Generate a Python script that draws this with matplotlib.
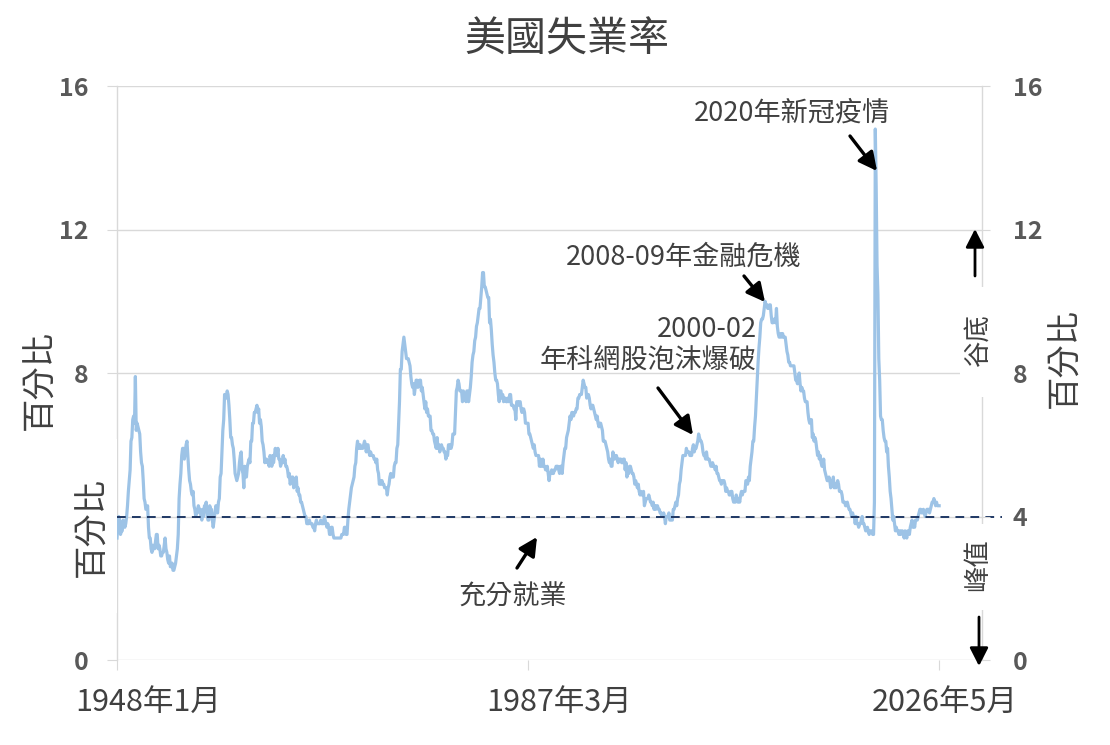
import numpy as np
import matplotlib
matplotlib.use("Agg")
import matplotlib.pyplot as plt
from matplotlib.transforms import ScaledTranslation
from matplotlib.patches import Rectangle, FancyArrowPatch
from matplotlib.ticker import FuncFormatter

plt.rcParams['font.family'] = ['Noto Sans CJK TC', 'DejaVu Sans']

# ---------------- data ----------------
title = "美國失業率"
start_year = 1948
x_tick_labels = ["1948年1月", "1987年3月", "2026年5月"]
x_tick_dates = [(1948, 1), (1987, 3), (2026, 5)]
y_ticks = [0, 4, 8, 12, 16]
full_employment = 4.0

unemployment_rate = [
    3.4, 3.8, 4.0, 3.9, 3.5, 3.6, 3.6, 3.9, 3.8, 3.7, 3.8, 4.0,   # 1948
    4.3, 4.7, 5.0, 5.3, 6.1, 6.2, 6.7, 6.8, 6.6, 7.9, 6.4, 6.6,   # 1949
    6.5, 6.4, 6.3, 5.8, 5.5, 5.4, 5.0, 4.5, 4.4, 4.2, 4.2, 4.3,   # 1950
    3.7, 3.4, 3.4, 3.1, 3.0, 3.2, 3.1, 3.1, 3.3, 3.5, 3.5, 3.1,   # 1951
    3.2, 3.1, 2.9, 2.9, 3.0, 3.0, 3.2, 3.4, 3.1, 3.0, 2.8, 2.7,   # 1952
    2.9, 2.6, 2.6, 2.7, 2.5, 2.5, 2.6, 2.7, 2.9, 3.1, 3.5, 4.5,   # 1953
    4.9, 5.2, 5.7, 5.9, 5.9, 5.6, 5.8, 6.0, 6.1, 5.7, 5.3, 5.0,   # 1954
    4.9, 4.7, 4.6, 4.7, 4.3, 4.2, 4.0, 4.2, 4.1, 4.3, 4.2, 4.2,   # 1955
    4.0, 3.9, 4.2, 4.0, 4.3, 4.3, 4.4, 4.1, 3.9, 3.9, 4.3, 4.2,   # 1956
    4.2, 3.9, 3.7, 3.9, 4.1, 4.3, 4.2, 4.1, 4.4, 4.5, 5.1, 5.2,   # 1957
    5.8, 6.4, 6.7, 7.4, 7.4, 7.3, 7.5, 7.4, 7.1, 6.7, 6.2, 6.2,   # 1958
    6.0, 5.9, 5.6, 5.2, 5.1, 5.0, 5.1, 5.2, 5.5, 5.7, 5.8, 5.3,   # 1959
    5.2, 4.8, 5.4, 5.2, 5.1, 5.4, 5.5, 5.6, 5.5, 6.1, 6.1, 6.6,   # 1960
    6.6, 6.9, 6.9, 7.0, 7.1, 6.9, 7.0, 6.6, 6.7, 6.5, 6.1, 6.0,   # 1961
    5.8, 5.5, 5.6, 5.6, 5.5, 5.5, 5.4, 5.7, 5.6, 5.4, 5.7, 5.5,   # 1962
    5.7, 5.9, 5.7, 5.7, 5.9, 5.6, 5.6, 5.4, 5.5, 5.5, 5.7, 5.5,   # 1963
    5.6, 5.4, 5.4, 5.3, 5.1, 5.2, 4.9, 5.0, 5.1, 5.1, 4.8, 5.0,   # 1964
    4.9, 5.1, 4.7, 4.8, 4.6, 4.6, 4.4, 4.4, 4.3, 4.2, 4.1, 4.0,   # 1965
    4.0, 3.8, 3.8, 3.8, 3.9, 3.8, 3.8, 3.8, 3.7, 3.7, 3.6, 3.8,   # 1966
    3.9, 3.8, 3.8, 3.8, 3.8, 3.9, 3.8, 3.8, 3.8, 4.0, 3.9, 3.8,   # 1967
    3.7, 3.8, 3.7, 3.5, 3.5, 3.7, 3.7, 3.5, 3.4, 3.4, 3.4, 3.4,   # 1968
    3.4, 3.4, 3.4, 3.4, 3.4, 3.5, 3.5, 3.5, 3.7, 3.7, 3.5, 3.5,   # 1969
    3.9, 4.2, 4.4, 4.6, 4.8, 4.9, 5.0, 5.1, 5.4, 5.5, 5.9, 6.1,   # 1970
    5.9, 5.9, 6.0, 5.9, 5.9, 5.9, 6.0, 6.1, 6.0, 5.8, 6.0, 6.0,   # 1971
    5.8, 5.7, 5.8, 5.7, 5.7, 5.7, 5.6, 5.6, 5.5, 5.6, 5.3, 5.2,   # 1972
    4.9, 5.0, 4.9, 5.0, 4.9, 4.9, 4.8, 4.8, 4.8, 4.6, 4.8, 4.9,   # 1973
    5.1, 5.2, 5.1, 5.1, 5.1, 5.4, 5.5, 5.5, 5.9, 6.0, 6.6, 7.2,   # 1974
    8.1, 8.1, 8.6, 8.8, 9.0, 8.8, 8.6, 8.4, 8.4, 8.4, 8.3, 8.2,   # 1975
    7.9, 7.7, 7.6, 7.7, 7.4, 7.6, 7.8, 7.8, 7.6, 7.7, 7.8, 7.8,   # 1976
    7.5, 7.6, 7.4, 7.2, 7.0, 7.2, 6.9, 7.0, 6.8, 6.8, 6.8, 6.4,   # 1977
    6.4, 6.3, 6.3, 6.1, 6.0, 5.9, 6.2, 5.9, 6.0, 5.8, 5.9, 6.0,   # 1978
    5.9, 5.9, 5.8, 5.8, 5.6, 5.7, 5.7, 6.0, 5.9, 6.0, 5.9, 6.0,   # 1979
    6.3, 6.3, 6.3, 6.9, 7.5, 7.6, 7.8, 7.7, 7.5, 7.5, 7.5, 7.2,   # 1980
    7.5, 7.4, 7.4, 7.2, 7.5, 7.5, 7.2, 7.4, 7.6, 7.9, 8.3, 8.5,   # 1981
    8.6, 8.9, 9.0, 9.3, 9.4, 9.6, 9.8, 9.8, 10.1, 10.4, 10.8, 10.8,  # 1982
    10.4, 10.4, 10.3, 10.2, 10.1, 10.1, 9.4, 9.5, 9.2, 8.8, 8.5, 8.3,  # 1983
    8.0, 7.8, 7.8, 7.7, 7.4, 7.2, 7.5, 7.5, 7.3, 7.4, 7.2, 7.3,   # 1984
    7.3, 7.2, 7.2, 7.3, 7.2, 7.4, 7.4, 7.1, 7.1, 7.1, 7.0, 7.0,   # 1985
    6.7, 7.2, 7.2, 7.1, 7.2, 7.2, 7.0, 6.9, 7.0, 7.0, 6.9, 6.6,   # 1986
    6.6, 6.6, 6.6, 6.3, 6.3, 6.2, 6.1, 6.0, 5.9, 6.0, 5.8, 5.7,   # 1987
    5.7, 5.7, 5.7, 5.4, 5.6, 5.4, 5.4, 5.6, 5.4, 5.4, 5.3, 5.3,   # 1988
    5.4, 5.2, 5.0, 5.2, 5.2, 5.3, 5.2, 5.2, 5.3, 5.3, 5.4, 5.4,   # 1989
    5.4, 5.3, 5.2, 5.4, 5.4, 5.2, 5.5, 5.7, 5.9, 5.9, 6.2, 6.3,   # 1990
    6.4, 6.6, 6.8, 6.7, 6.9, 6.9, 6.8, 6.9, 6.9, 7.0, 7.0, 7.3,   # 1991
    7.3, 7.4, 7.4, 7.4, 7.6, 7.8, 7.7, 7.6, 7.6, 7.3, 7.4, 7.4,   # 1992
    7.3, 7.1, 7.0, 7.1, 7.1, 7.0, 6.9, 6.8, 6.7, 6.8, 6.6, 6.5,   # 1993
    6.6, 6.6, 6.5, 6.4, 6.1, 6.1, 6.1, 6.0, 5.9, 5.8, 5.6, 5.5,   # 1994
    5.6, 5.4, 5.4, 5.8, 5.6, 5.6, 5.7, 5.7, 5.6, 5.5, 5.6, 5.6,   # 1995
    5.6, 5.5, 5.5, 5.6, 5.6, 5.3, 5.5, 5.1, 5.2, 5.2, 5.4, 5.4,   # 1996
    5.3, 5.2, 5.2, 5.1, 4.9, 5.0, 4.9, 4.8, 4.9, 4.7, 4.6, 4.7,   # 1997
    4.6, 4.6, 4.7, 4.3, 4.4, 4.5, 4.5, 4.5, 4.6, 4.5, 4.4, 4.4,   # 1998
    4.3, 4.4, 4.2, 4.3, 4.2, 4.3, 4.3, 4.2, 4.2, 4.1, 4.1, 4.0,   # 1999
    4.0, 4.1, 4.0, 3.8, 4.0, 4.0, 4.0, 4.1, 3.9, 3.9, 3.9, 3.9,   # 2000
    4.2, 4.2, 4.3, 4.4, 4.3, 4.5, 4.6, 4.9, 5.0, 5.3, 5.5, 5.7,   # 2001
    5.7, 5.7, 5.7, 5.9, 5.8, 5.8, 5.8, 5.7, 5.7, 5.7, 5.9, 6.0,   # 2002
    5.8, 5.9, 5.9, 6.0, 6.1, 6.3, 6.2, 6.1, 6.1, 6.0, 5.8, 5.7,   # 2003
    5.7, 5.6, 5.8, 5.6, 5.6, 5.6, 5.5, 5.4, 5.4, 5.5, 5.4, 5.4,   # 2004
    5.3, 5.4, 5.2, 5.2, 5.1, 5.0, 5.0, 4.9, 5.0, 5.0, 5.0, 4.9,   # 2005
    4.7, 4.8, 4.7, 4.7, 4.6, 4.6, 4.7, 4.7, 4.5, 4.4, 4.5, 4.4,   # 2006
    4.6, 4.5, 4.4, 4.5, 4.4, 4.6, 4.7, 4.6, 4.7, 4.7, 4.7, 5.0,   # 2007
    5.0, 4.9, 5.1, 5.0, 5.4, 5.6, 5.8, 6.1, 6.1, 6.5, 6.8, 7.3,   # 2008
    7.8, 8.3, 8.7, 9.0, 9.4, 9.5, 9.5, 9.6, 9.8, 10.0, 9.9, 9.9,  # 2009
    9.8, 9.8, 9.9, 9.9, 9.6, 9.4, 9.4, 9.5, 9.5, 9.4, 9.8, 9.3,   # 2010
    9.1, 9.0, 9.0, 9.1, 9.0, 9.1, 9.0, 9.0, 9.0, 8.8, 8.6, 8.5,   # 2011
    8.3, 8.3, 8.2, 8.2, 8.2, 8.2, 8.2, 8.0, 7.8, 7.8, 7.7, 7.9,   # 2012
    8.0, 7.7, 7.5, 7.6, 7.5, 7.5, 7.3, 7.2, 7.2, 7.2, 6.9, 6.7,   # 2013
    6.6, 6.7, 6.7, 6.2, 6.3, 6.1, 6.2, 6.1, 5.9, 5.7, 5.8, 5.6,   # 2014
    5.7, 5.5, 5.4, 5.4, 5.6, 5.3, 5.2, 5.1, 5.0, 5.0, 5.1, 5.0,   # 2015
    4.8, 4.9, 5.0, 5.1, 4.8, 4.9, 4.8, 4.9, 5.0, 4.9, 4.7, 4.7,   # 2016
    4.7, 4.6, 4.4, 4.4, 4.4, 4.3, 4.3, 4.4, 4.3, 4.2, 4.2, 4.1,   # 2017
    4.0, 4.1, 4.0, 4.0, 3.8, 4.0, 3.8, 3.8, 3.7, 3.8, 3.8, 3.9,   # 2018
    4.0, 3.8, 3.8, 3.7, 3.6, 3.6, 3.7, 3.6, 3.5, 3.6, 3.6, 3.6,   # 2019
    3.5, 3.5, 4.4, 14.8, 13.2, 11.0, 10.2, 8.4, 7.8, 6.8, 6.7, 6.7,  # 2020
    6.4, 6.2, 6.1, 6.1, 5.8, 5.9, 5.4, 5.1, 4.7, 4.5, 4.2, 3.9,   # 2021
    4.0, 3.8, 3.6, 3.7, 3.6, 3.6, 3.5, 3.6, 3.5, 3.6, 3.6, 3.5,   # 2022
    3.4, 3.6, 3.5, 3.4, 3.6, 3.6, 3.5, 3.7, 3.8, 3.9, 3.7, 3.8,   # 2023
    3.7, 3.9, 3.9, 3.9, 4.0, 4.1, 4.2, 4.2, 4.1, 4.1, 4.2, 4.1,   # 2024
    4.0, 4.1, 4.2, 4.2, 4.2, 4.1, 4.2, 4.3, 4.4, 4.4, 4.5, 4.4,   # 2025
    4.3, 4.4, 4.3, 4.3, 4.3,                                       # 2026
]

# annotation texts
covid_label = "2020年新冠疫情"
gfc_label = "2008-09年金融危機"
dotcom_label = "2000-02\n年科網股泡沫爆破"
full_emp_label = "充分就業"
trough_label = "谷底"
peak_label = "峰值"
y_label = "百分比"

# ---------------- styling ----------------
W, H = 1110, 745
LINE_C = "#9DC3E6"
GRID_C = "#D9D9D9"
TXT_C = "#404040"
TICK_C = "#595959"
DASH_C = "#1F3864"

fig = plt.figure(figsize=(W / 100, H / 100), dpi=100)
L, R, T, B = 117, 982, 86, 660
ax = fig.add_axes([L / W, 1 - B / H, (R - L) / W, (B - T) / H])

x = np.arange(len(unemployment_rate))
x_max = 989  # extra room right of the last month

ax.plot(x, unemployment_rate, color=LINE_C, lw=2.3, zorder=3, solid_joinstyle='round')
ax.axhline(full_employment, xmin=0, xmax=1.023, color=DASH_C, lw=1.4,
           ls=(0, (4.5, 3.2)), clip_on=False, zorder=4)

ax.set_xlim(0, x_max)
ax.set_ylim(0, 16)
ax.set_yticks(y_ticks)
ax.grid(axis='y', color=GRID_C, lw=1.0)
ax.set_axisbelow(True)

for s in ['top', 'bottom']:
    ax.spines[s].set_visible(False)
for s in ['left', 'right']:
    ax.spines[s].set_color(GRID_C)
    ax.spines[s].set_linewidth(1.0)

tick_pos = [(yy - start_year) * 12 + (mm - 1) for yy, mm in x_tick_dates]
ax.set_xticks(tick_pos)
ax.set_xticklabels(x_tick_labels, fontsize=22, color=TXT_C)
ax.tick_params(axis='x', length=7.5, color=GRID_C, pad=12)
shifts = [31, 31, 6]
for lab, dx in zip(ax.get_xticklabels(), shifts):
    lab.set_transform(lab.get_transform() + ScaledTranslation(dx / 100, 0, fig.dpi_scale_trans))

# left axis: the "4" label is hidden behind the 百分比 label in the reference
ax.yaxis.set_major_formatter(FuncFormatter(lambda v, p: "" if v == full_employment else f"{v:g}"))
ax.tick_params(axis='y', length=7.5, color=GRID_C, pad=13, labelsize=18,
               labelcolor=TICK_C)
for lab in ax.get_yticklabels():
    lab.set_fontweight('bold')

ax2 = ax.twinx()
ax2.set_ylim(0, 16)
ax2.set_yticks(y_ticks)
ax2.tick_params(axis='y', length=6, color=GRID_C, pad=16, labelsize=18,
                labelcolor=TICK_C)
for lab in ax2.get_yticklabels():
    lab.set_fontweight('bold')
for s in ax2.spines.values():
    s.set_visible(False)


def px2data(px, py):
    return ((px - L) / (R - L) * x_max, (B - py) / (B - T) * 16)


ASTYLE = '-|>,head_length=0.55,head_width=0.28'
arrow_kw = dict(arrowstyle=ASTYLE, color='black', lw=2.4, shrinkA=0, shrinkB=0,
                mutation_scale=20)

# title
fig.text(567 / W, 1 - 40 / H, title, ha='center', va='center', fontsize=29.5, color=TXT_C)

# annotations
ax.text(*px2data(792, 113), covid_label, ha='center', va='center', fontsize=19.5, color=TXT_C)
ax.annotate('', xy=px2data(877, 171), xytext=px2data(850, 136), arrowprops=arrow_kw)

ax.text(*px2data(684, 257), gfc_label, ha='center', va='center', fontsize=19.5, color=TXT_C,
        zorder=6)
ax.annotate('', xy=px2data(765, 302), xytext=px2data(744, 276), arrowprops=arrow_kw)

ax.text(*px2data(757, 345), dotcom_label, ha='right', va='center', fontsize=19.5,
        color=TXT_C, linespacing=1.2, multialignment='right')
ax.annotate('', xy=px2data(693, 435), xytext=px2data(658, 388), arrowprops=arrow_kw)

ax.text(*px2data(513, 597), full_emp_label, ha='center', va='center', fontsize=19.5, color=TXT_C)
ax.annotate('', xy=px2data(537, 537), xytext=px2data(517, 568), arrowprops=arrow_kw)

# white boxes interrupting the side axes
for (x0, y0, x1, y1) in [(50, 439, 116.6, 613), (960, 287, 1004, 397), (960, 524, 1004, 610)]:
    fig.patches.append(Rectangle((x0 / W, 1 - y1 / H), (x1 - x0) / W, (y1 - y0) / H,
                                 transform=fig.transFigure, facecolor='white',
                                 edgecolor='none', zorder=2))

# right side peak / trough arrows
for (xa, ya0, ya1) in [(975, 276, 229), (979, 617, 666)]:
    fig.add_artist(FancyArrowPatch((xa / W, 1 - ya0 / H), (xa / W, 1 - ya1 / H),
                                   transform=fig.transFigure, arrowstyle=ASTYLE,
                                   mutation_scale=20, shrinkA=0, shrinkB=0,
                                   color='black', lw=2.0, zorder=5))

fig.text(978 / W, 1 - 340 / H, trough_label, rotation=90, ha='center', va='center',
         fontsize=19, color=TXT_C, zorder=5)
fig.text(978 / W, 1 - 565 / H, peak_label, rotation=90, ha='center', va='center',
         fontsize=19, color=TXT_C, zorder=5)

# y labels
fig.text(40 / W, 1 - 380 / H, y_label, rotation=90, ha='center', va='center',
         fontsize=24, color=TXT_C, zorder=5)
fig.text(92 / W, 1 - 527 / H, y_label, rotation=90, ha='center', va='center',
         fontsize=24, color=TXT_C, zorder=5)
fig.text(1065 / W, 1 - 358 / H, y_label, rotation=90, ha='center', va='center',
         fontsize=24, color=TXT_C, zorder=5)

fig.savefig("out.png", dpi=100, facecolor='white')
